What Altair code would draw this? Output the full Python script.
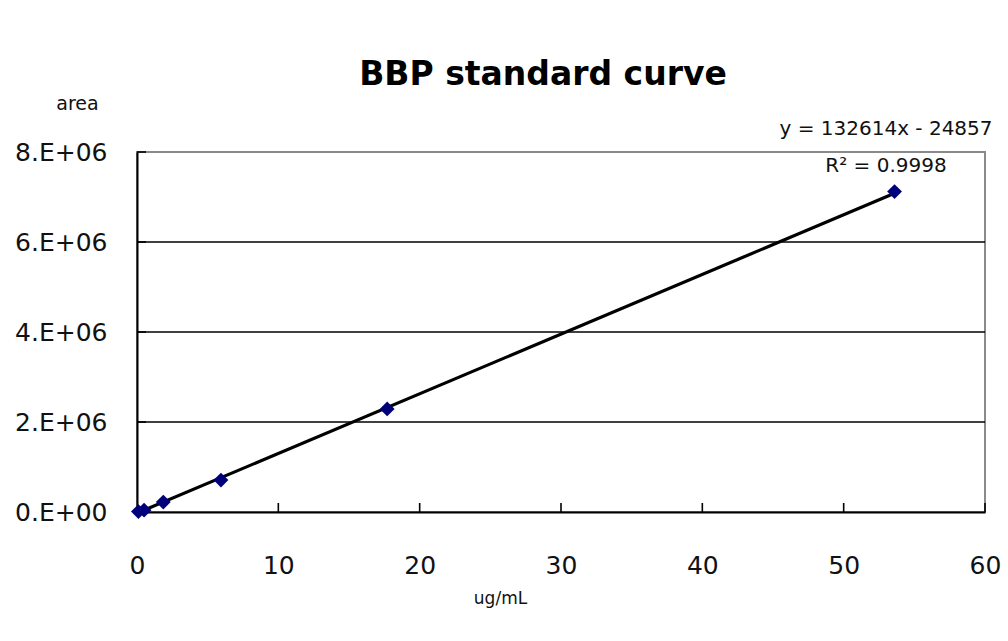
import altair as alt
import pandas as pd

# Standard curve measurements: concentration (ug/mL) vs. peak area
conc = [0.1, 0.5, 1.86, 5.94, 17.7, 53.6]
area = [10000, 40000, 220000, 710000, 2290000, 7120000]

# Linear trendline parameters
slope = 132614
intercept = -24857
r_squared = 0.9998

x_ticks = [0, 10, 20, 30, 40, 50, 60]
y_ticks = [0, 2000000, 4000000, 6000000, 8000000]
grid_values = [2000000, 4000000, 6000000]

W, H = 848, 360

points = pd.DataFrame({"conc": conc, "area": area})
trend = pd.DataFrame({"conc": [min(conc), max(conc)]})
trend["area"] = slope * trend["conc"] + intercept

xs = alt.Scale(domain=[0, 60], nice=False, zero=False)
ys = alt.Scale(domain=[0, 8000000], nice=False)

label_font = "DejaVu Sans"
ink = "#111111"

x_axis = alt.Axis(
    values=x_ticks, grid=False, ticks=False, tickSize=0,
    domainColor="black", domainWidth=2, labelFlush=False,
    labelFont=label_font, labelFontSize=25, labelColor=ink, labelPadding=41,
    title="ug/mL", titleFont=label_font, titleFontSize=17, titleFontWeight="normal",
    titleColor=ink, titleX=363, titleY=86, titleBaseline="middle", titleAnchor="start",
    titleAlign="center",
)
y_axis = alt.Axis(
    values=y_ticks, grid=False, ticks=False, tickSize=0,
    domainColor="black", domainWidth=2, labelFlush=False,
    labelFont=label_font, labelFontSize=25, labelColor=ink, labelPadding=30,
    labelBaseline="middle",
    labelExpr="datum.value == 0 ? '0.E+00' : format(datum.value / 1000000, 'd') + '.E+06'",
    title="area", titleFont=label_font, titleFontSize=19, titleFontWeight="normal",
    titleColor=ink, titleAngle=0, titleX=-60, titleY=-49, titleAlign="center",
    titleBaseline="middle",
)

grid = alt.Chart(pd.DataFrame({"g": grid_values})).mark_rule(
    color="black", strokeWidth=1.6
).encode(y=alt.Y("g:Q", scale=ys, axis=y_axis))

x_tick_marks = alt.Chart(pd.DataFrame({"t": x_ticks[1:]})).mark_rule(
    color="black", strokeWidth=1.6
).encode(x=alt.X("t:Q", scale=xs, axis=x_axis), y=alt.value(H), y2=alt.value(H - 9))

y_tick_marks = alt.Chart(pd.DataFrame({"t": y_ticks[1:]})).mark_rule(
    color="black", strokeWidth=1.6
).encode(y=alt.Y("t:Q", scale=ys, axis=y_axis), x=alt.value(0), x2=alt.value(9))

line = alt.Chart(trend).mark_line(color="black", strokeWidth=3.2).encode(
    x=alt.X("conc:Q", scale=xs, axis=x_axis),
    y=alt.Y("area:Q", scale=ys, axis=y_axis),
)

dots = alt.Chart(points).mark_point(
    shape="diamond", filled=True, size=220, color="#00007a", opacity=1
).encode(
    x=alt.X("conc:Q", scale=xs, axis=x_axis),
    y=alt.Y("area:Q", scale=ys, axis=y_axis),
)

title = alt.Chart(pd.DataFrame({"t": ["BBP standard curve"]})).mark_text(
    font="DejaVu Sans", fontSize=33, fontWeight="bold", color="black",
    align="center", baseline="alphabetic",
).encode(text="t:N", x=alt.value(406), y=alt.value(-67))

eq_text = alt.Chart(pd.DataFrame({
    "t": [f"y = {slope}x - {abs(intercept)}", f"R\u00b2 = {r_squared}"],
    "yy": [-17, 20],
})).mark_text(
    font=label_font, fontSize=20, color=ink, align="center", baseline="alphabetic",
).encode(text="t:N", x=alt.value(749), y=alt.Y("yy:Q", scale=None))

chart = alt.layer(
    grid, line, dots, x_tick_marks, y_tick_marks, title, eq_text
).properties(
    width=W, height=H,
    autosize=alt.AutoSizeParams(type="none"),
    padding={"left": 137, "top": 152, "right": 23, "bottom": 129},
    background="white",
).configure_view(stroke="#8a8a8a", strokeWidth=2)

chart.save("out.html", embed_options={"renderer": "svg", "actions": False})
